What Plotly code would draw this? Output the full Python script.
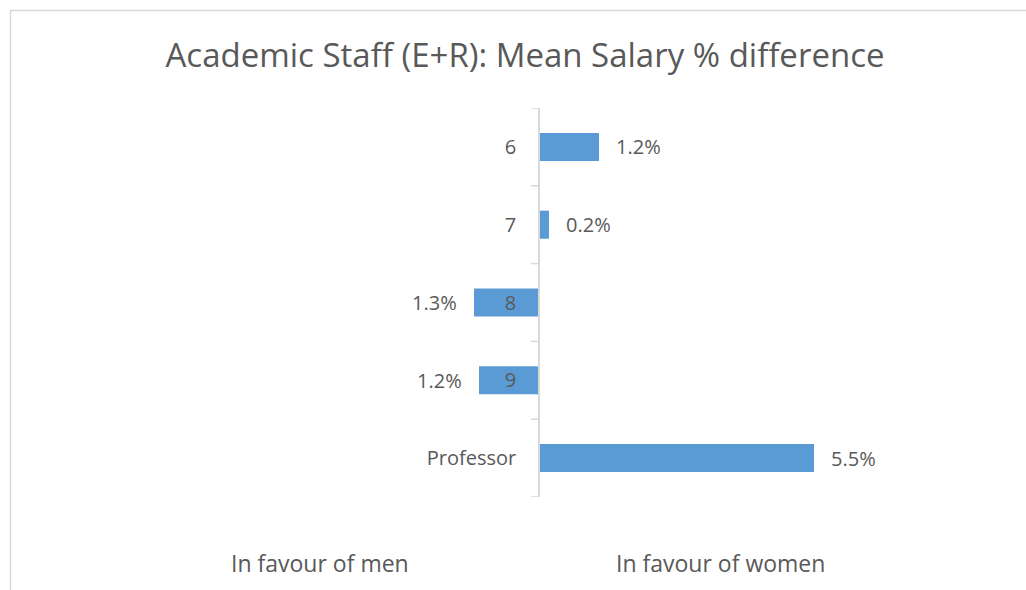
import plotly.graph_objects as go

grades = ['6', '7', '8', '9', 'Professor']
diff_pct = [1.2, 0.2, -1.3, -1.2, 5.5]
side_labels = ['In favour of men', 'In favour of women']
side_pos = [-4.38, 3.62]

W, H = 1026, 590
L, R, T, B = 100, 100, 108, 93
x0_px = 539
px_per_unit = 50
plot_w = W - L - R
plot_h = H - T - B
x_lo = (L - x0_px) / px_per_unit
x_hi = (W - R - x0_px) / px_per_unit

grey_txt = '#595959'
fnt = 'Open Sans'

fig = go.Figure(go.Bar(
    x=diff_pct, y=list(range(len(grades))), orientation='h', width=0.36,
    marker=dict(color='#5B9BD5', line=dict(width=0)),
    hoverinfo='skip',
))

for i, v in enumerate(diff_pct):
    fig.add_annotation(
        x=v, y=i, xref='x', yref='y', text=f'{abs(v):.1f}%', showarrow=False,
        xanchor='left' if v >= 0 else 'right', xshift=15 if v >= 0 else -15,
        font=dict(family=fnt, size=20, color=grey_txt),
    )

for txt, xp in zip(side_labels, side_pos):
    fig.add_annotation(
        x=xp, xref='x', y=(T + plot_h - 563) / plot_h, yref='paper', yanchor='middle',
        text=txt, showarrow=False, font=dict(family=fnt, size=23, color=grey_txt),
    )

# chart frame
fig.add_shape(
    type='rect', xref='paper', yref='paper', layer='below',
    x0=(10.5 - L) / plot_w, x1=(W + 5 - L) / plot_w,
    y0=(T + plot_h - (H + 5)) / plot_h, y1=(T + plot_h - 10.5) / plot_h,
    line=dict(color='#d9d9d9', width=1.5),
)

fig.update_layout(
    width=W, height=H,
    margin=dict(l=L, r=R, t=T, b=B),
    paper_bgcolor='white', plot_bgcolor='white',
    showlegend=False,
    title=dict(
        text='Academic Staff (E+R): Mean Salary % difference',
        x=525 / W, xref='container', xanchor='center',
        y=1 - 55 / H, yref='container', yanchor='middle',
        font=dict(family=fnt, size=33, color=grey_txt),
    ),
    xaxis=dict(range=[x_lo, x_hi], visible=False, fixedrange=True),
    yaxis=dict(
        range=[len(grades) - 0.5, -0.5],
        tickmode='array', tickvals=list(range(len(grades))), ticktext=grades,
        anchor='free', position=(x0_px - L) / plot_w,
        showline=True, linecolor='#d9d9d9', linewidth=1.5,
        ticks='', showgrid=False, zeroline=False,
        ticklabelstandoff=18,
        tickfont=dict(family=fnt, size=20, color=grey_txt),
    ),
)

# tick marks between categories, Excel style
for k in range(len(grades) + 1):
    fig.add_shape(
        type='line', xref='x', yref='y', x0=0, x1=-8 / px_per_unit,
        y0=k - 0.5, y1=k - 0.5, line=dict(color='#d9d9d9', width=1.5),
    )

fig.write_html('out.html', config={'displayModeBar': False},
               post_script="document.body.style.margin='0';")
